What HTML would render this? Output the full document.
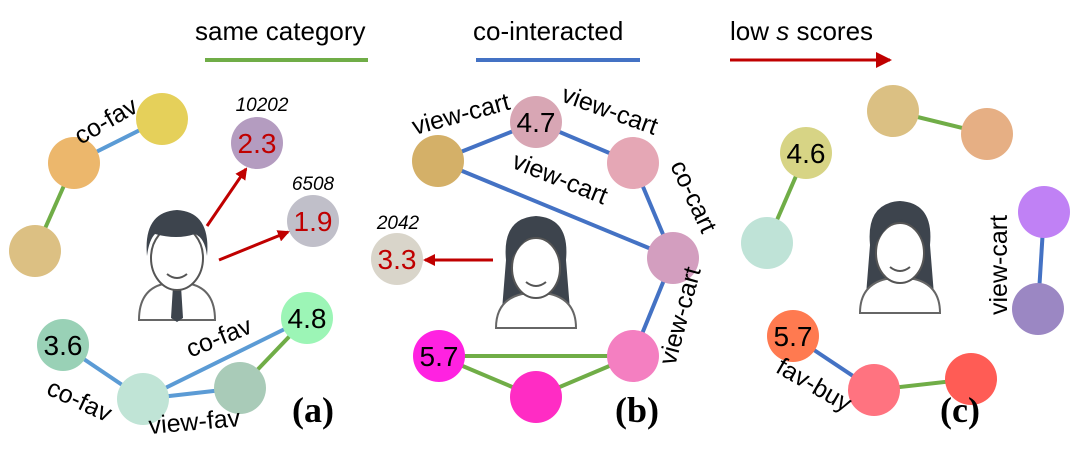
<!DOCTYPE html>
<html><head><meta charset="utf-8"><style>
html,body{margin:0;padding:0;background:#fff;}
svg{display:block;font-family:"Liberation Sans",Arial,sans-serif;}
</style></head><body>
<svg width="1080" height="465" viewBox="0 0 1080 465" xmlns="http://www.w3.org/2000/svg">
<defs>
<marker id="ar" markerWidth="12" markerHeight="12" refX="10" refY="6" orient="auto" markerUnits="userSpaceOnUse">
<path d="M0,0 L12,6 L0,12 z" fill="#c00000"/></marker>
<marker id="ar2" markerWidth="16" markerHeight="16" refX="14" refY="8" orient="auto" markerUnits="userSpaceOnUse">
<path d="M0,0 L16,8 L0,16 z" fill="#c00000"/></marker>
<g id="man">
<path d="M-38,58 Q-38,28 -14,22 L14,22 Q38,28 38,58 Z" fill="#fff" stroke="#666" stroke-width="2"/>
<path d="M-4,24 L4,24 L6,56 L0,60 L-6,56 Z" fill="#3d444d"/>
<ellipse cx="0" cy="-4" rx="26" ry="32" fill="#fff" stroke="#555" stroke-width="2"/>
<path d="M-30,-6 Q-34,-50 0,-52 Q34,-50 30,-6 Q28,-24 18,-28 Q0,-22 -22,-28 Q-28,-22 -30,-6Z" fill="#3d444d"/>
<path d="M-10,12 Q0,20 10,12" fill="none" stroke="#555" stroke-width="2"/>
</g>
<g id="woman">
<path d="M-30,-10 Q-34,-52 0,-54 Q34,-52 30,-10 L34,40 L-34,40 Z" fill="#3d444d"/>
<path d="M-40,58 Q-40,30 -14,24 L14,24 Q40,30 40,58 Z" fill="#fff" stroke="#666" stroke-width="2"/>
<ellipse cx="0" cy="-2" rx="24" ry="30" fill="#fff" stroke="#555" stroke-width="2"/>
<path d="M-24,-12 Q-10,-36 0,-34 Q16,-34 24,-12 Q20,-30 0,-36 Q-20,-30 -24,-12Z" fill="#3d444d"/>
<path d="M-10,12 Q0,20 10,12" fill="none" stroke="#555" stroke-width="2"/>
</g>
</defs>

<text x="195" y="40" font-size="26">same category</text>
<line x1="205" y1="60" x2="368" y2="60" stroke="#70ad47" stroke-width="4"/>
<text x="473" y="40" font-size="26">co-interacted</text>
<line x1="476" y1="60" x2="640" y2="60" stroke="#4472c4" stroke-width="4"/>
<text x="730" y="40" font-size="26">low <tspan font-style="italic">s</tspan> scores</text>
<line x1="730" y1="60" x2="890" y2="60" stroke="#c00000" stroke-width="3" marker-end="url(#ar2)"/>

<g stroke-width="4">
<line x1="162" y1="119" x2="74" y2="163" stroke="#5b9bd5"/>
<line x1="74" y1="163" x2="35" y2="251" stroke="#70ad47"/>
<line x1="63" y1="345" x2="143" y2="399" stroke="#5b9bd5"/>
<line x1="143" y1="399" x2="307" y2="318" stroke="#5b9bd5"/>
<line x1="143" y1="399" x2="240" y2="388" stroke="#5b9bd5"/>
<line x1="240" y1="388" x2="307" y2="318" stroke="#70ad47"/>
<line x1="438" y1="161" x2="536" y2="122" stroke="#4472c4"/>
<line x1="536" y1="122" x2="633" y2="163" stroke="#4472c4"/>
<line x1="438" y1="161" x2="673" y2="258" stroke="#4472c4"/>
<line x1="633" y1="163" x2="673" y2="258" stroke="#4472c4"/>
<line x1="673" y1="258" x2="633" y2="356" stroke="#4472c4"/>
<line x1="633" y1="356" x2="439" y2="356" stroke="#70ad47"/>
<line x1="439" y1="356" x2="536" y2="397" stroke="#70ad47"/>
<line x1="536" y1="397" x2="633" y2="356" stroke="#70ad47"/>
<line x1="893" y1="111" x2="987" y2="134" stroke="#70ad47"/>
<line x1="806" y1="153" x2="767" y2="243" stroke="#70ad47"/>
<line x1="1044" y1="212" x2="1038" y2="309" stroke="#4472c4"/>
<line x1="793" y1="336" x2="874" y2="390" stroke="#4472c4"/>
<line x1="874" y1="390" x2="971" y2="379" stroke="#70ad47"/>
</g>

<g>
<circle cx="162" cy="119" r="26" fill="#e5d05a"/>
<circle cx="74" cy="163" r="26" fill="#ecb76c"/>
<circle cx="35" cy="251" r="26" fill="#dcc083"/>
<circle cx="257" cy="143" r="26" fill="#b49cc0"/>
<circle cx="313" cy="221" r="26" fill="#c0bfc9"/>
<circle cx="63" cy="345" r="26" fill="#99d1b6"/>
<circle cx="143" cy="399" r="26" fill="#c0e4d6"/>
<circle cx="307" cy="318" r="26" fill="#9cf5b6"/>
<circle cx="240" cy="388" r="26" fill="#a9cbb8"/>
<circle cx="438" cy="161" r="26" fill="#d4b068"/>
<circle cx="536" cy="122" r="26" fill="#d8a6b4"/>
<circle cx="633" cy="163" r="26" fill="#e5a7b5"/>
<circle cx="673" cy="258" r="26" fill="#d39ebf"/>
<circle cx="633" cy="356" r="26" fill="#f47fc1"/>
<circle cx="439" cy="356" r="26" fill="#ff22e1"/>
<circle cx="536" cy="397" r="26" fill="#ff2cc4"/>
<circle cx="397" cy="259" r="26" fill="#d9d5ca"/>
<circle cx="893" cy="111" r="26" fill="#dbc083"/>
<circle cx="987" cy="134" r="26" fill="#e6af84"/>
<circle cx="806" cy="153" r="26" fill="#d7d485"/>
<circle cx="767" cy="243" r="26" fill="#bfe3d7"/>
<circle cx="1044" cy="212" r="26" fill="#c081f5"/>
<circle cx="1038" cy="309" r="26" fill="#9b87c3"/>
<circle cx="793" cy="336" r="26" fill="#ff7a50"/>
<circle cx="874" cy="390" r="26" fill="#ff7380"/>
<circle cx="971" cy="379" r="26" fill="#ff5c55"/>
</g>

<g font-size="28" text-anchor="middle">
<text x="257" y="153" fill="#c00000">2.3</text>
<text x="313" y="231" fill="#c00000">1.9</text>
<text x="397" y="269" fill="#c00000">3.3</text>
<text x="63" y="355">3.6</text>
<text x="307" y="328">4.8</text>
<text x="536" y="132">4.7</text>
<text x="439" y="366">5.7</text>
<text x="806" y="163">4.6</text>
<text x="793" y="346">5.7</text>
</g>
<g font-size="19" font-style="italic" text-anchor="middle">
<text x="262" y="111">10202</text>
<text x="313" y="190">6508</text>
<text x="398" y="229">2042</text>
</g>

<g font-size="25" text-anchor="middle">
<text transform="translate(110,128) rotate(-30)">co-fav</text>
<text transform="translate(76,408) rotate(25)">co-fav</text>
<text transform="translate(222,345) rotate(-22)">co-fav</text>
<text transform="translate(195,430) rotate(-5)">view-fav</text>
<text transform="translate(463,122) rotate(-15)">view-cart</text>
<text transform="translate(607,118) rotate(20)">view-cart</text>
<text transform="translate(557,186) rotate(22)">view-cart</text>
<text transform="translate(686,200) rotate(65)">co-cart</text>
<text transform="translate(688,318) rotate(-75)">view-cart</text>
<text transform="translate(1007,265) rotate(-90)">view-cart</text>
<text transform="translate(810,392) rotate(30)">fav-buy</text>
</g>
<g font-family="Liberation Serif,serif" font-weight="bold" font-size="36" text-anchor="middle">
<text x="313" y="422">(a)</text>
<text x="637" y="422">(b)</text>
<text x="960" y="422">(c)</text>
</g>

<use href="#man" x="177" y="262"/>
<use href="#woman" x="536" y="270"/>
<use href="#woman" x="900" y="255"/>

<line x1="207" y1="226" x2="246" y2="169" stroke="#c00000" stroke-width="3" marker-end="url(#ar)"/>
<line x1="219" y1="260" x2="288" y2="232" stroke="#c00000" stroke-width="3" marker-end="url(#ar)"/>
<line x1="493" y1="260" x2="425" y2="260" stroke="#c00000" stroke-width="3" marker-end="url(#ar)"/>
</svg>
</body></html>
